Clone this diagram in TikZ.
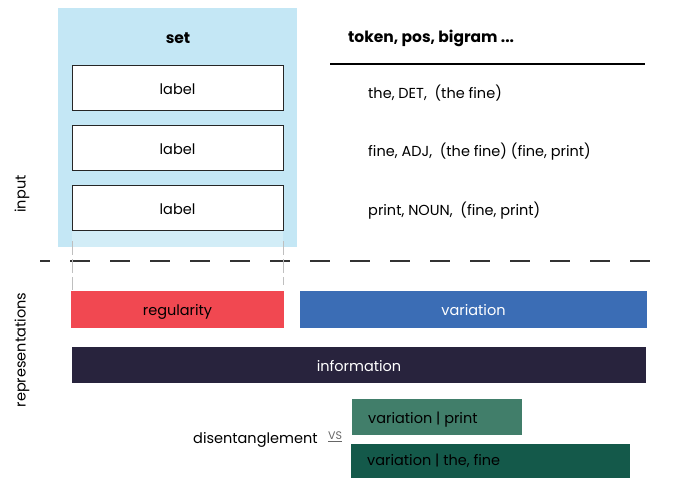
\documentclass[tikz,border=0pt]{standalone}
\usepackage{fontspec}
\setmainfont{Poppins}
\usetikzlibrary{positioning}
\definecolor{setblue}{HTML}{C4E7F5}
\definecolor{setpale}{HTML}{D2EDF7}
\definecolor{regred}{HTML}{F14851}
\definecolor{varblue}{HTML}{3B6DB5}
\definecolor{infodark}{HTML}{28233D}
\definecolor{condgreen}{HTML}{417E6A}
\definecolor{conddark}{HTML}{14594A}
\tikzset{
  txt/.style={inner sep=0pt, font=\fontsize{14.5}{17}\selectfont},
  boldtxt/.style={inner sep=0pt, font=\fontsize{15.5}{18}\selectfont\bfseries},
  labelbox/.style={draw=black!85, line width=1pt, fill=white, minimum width=211pt, minimum height=45pt, inner sep=0pt, text height=14pt, text depth=1pt, font=\fontsize{14.5}{17}\selectfont},
  reprbox/.style={minimum height=37pt, inner sep=0pt, text height=14pt, text depth=1pt, font=\fontsize{14.5}{17}\selectfont},
  condbox/.style={minimum height=36pt, inner sep=0pt},
}
\begin{document}
\begin{tikzpicture}[x=1pt,y=-1pt]
			\useasboundingbox (0,0) rectangle (686,478);
			% input side
			\fill[setblue] (58,8) rectangle (297,247);
			\fill[setpale] (72,231) rectangle (283,247);
			\node[boldtxt] (set) at (178,38) {set};
			\node[labelbox] (lab1) at (177.5,88.5) {label};
			\node[labelbox] (lab2) at (177.5,148.5) {label};
			\node[labelbox] (lab3) at (177.5,208.5) {label};
			\node[boldtxt, anchor=west] (feat) at (348,38) {token, pos, bigram ...};
			\draw[line width=1.2pt] (330,64) -- (645,64);
			\node[txt, anchor=west] (row1) at (368,93) {the, DET,\ \ (the fine)};
			\node[txt, anchor=west] (row2) at (368,152) {fine, ADJ,\ \ (the fine) (fine, print)};
			\node[txt, anchor=west] (row3) at (368,211) {print, NOUN,\ \ (fine, print)};
			\node[txt, rotate=90] (inp) at (22,194) {input};
			% split
			\draw[black!80, line width=1.2pt, dash pattern=on 20pt off 20pt, dash phase=10pt] (40,261) -- (652,261);
			\draw[black!25, line width=1pt, dash pattern=on 14pt off 4pt] (72,241) -- (72,290);
			\draw[black!25, line width=1pt, dash pattern=on 14pt off 4pt] (283,241) -- (283,285);
			% representations
			\node[txt, rotate=90] (repr) at (22,350) {representations};
			\node[reprbox, fill=regred, minimum width=213pt] (reg) at (177.5,309.5) {regularity};
			\node[reprbox, fill=varblue, text=white, minimum width=347pt] (var) at (473.5,309.5) {variation};
			\node[reprbox, fill=infodark, text=white, minimum width=574pt, minimum height=36pt] (info) at (359,365) {information};
			\node[txt, anchor=west] (dis) at (193,440) {disentanglement};
			\node[inner sep=0pt, anchor=west, font=\fontsize{11}{12}\selectfont\color{black!60}] (vs) at (328,437) {\underline{VS}};
			\node[condbox, fill=condgreen, minimum width=170pt, anchor=north west] (cond1) at (352,399) {};
			\node[txt, anchor=west] (cond1txt) at ([xshift=16pt,yshift=-2pt]cond1.west) {variation | print};
			\node[condbox, fill=conddark, minimum width=279pt, minimum height=34pt, anchor=north west] (cond2) at (351,444) {};
			\node[txt, anchor=west] (cond2txt) at ([xshift=16pt]cond2.west) {variation | the, fine};
		\end{tikzpicture}
\end{document}
